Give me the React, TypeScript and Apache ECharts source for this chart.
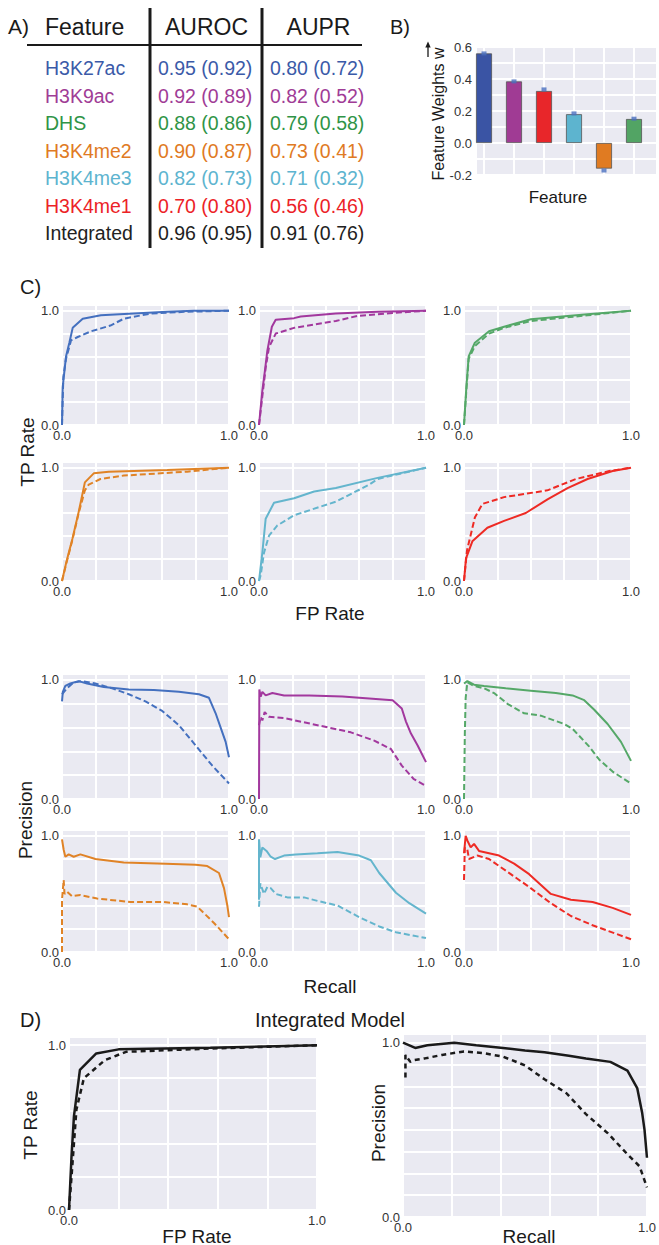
import React, { useEffect, useRef } from 'react';
import * as echarts from 'echarts';

// ---------- Table (A) ----------
const features = ['H3K27ac', 'H3K9ac', 'DHS', 'H3K4me2', 'H3K4me3', 'H3K4me1', 'Integrated'];
const aurocFull = ['0.95', '0.92', '0.88', '0.90', '0.82', '0.70', '0.96'];
const aurocBase = ['0.92', '0.89', '0.86', '0.87', '0.73', '0.80', '0.95'];
const auprFull = ['0.80', '0.82', '0.79', '0.73', '0.71', '0.56', '0.91'];
const auprBase = ['0.72', '0.52', '0.58', '0.41', '0.32', '0.46', '0.76'];
const tableColors = ['#3b5aa8', '#a03c96', '#2f9447', '#e07a24', '#5db4cf', '#ec2227', '#222222'];

// ---------- Bar chart (B) ----------
const barFeatures = ['H3K27ac', 'H3K9ac', 'H3K4me1', 'H3K4me3', 'H3K4me2', 'DHS'];
const weights = [0.56, 0.385, 0.325, 0.18, -0.16, 0.15];
const weightErr = [0.56, 0.385, 0.335, 0.185, -0.172, 0.152];
const barColors = ['#3a54a4', '#a03b94', '#e8262a', '#5db4cf', '#e07b22', '#52a464'];
const barTicks = [-0.2, 0.0, 0.2, 0.4, 0.6];

// ---------- ROC curves (C, top) [FP rate, TP rate] ----------
const rocH3K27ac = [[0,0],[0.004,0.33],[0.024,0.6],[0.044,0.72],[0.064,0.85],[0.124,0.93],[0.233,0.96],[0.43,0.975],[0.63,0.99],[0.79,1.0],[1,1.0]];
const rocH3K27acBase = [[0,0],[0.008,0.42],[0.024,0.58],[0.054,0.74],[0.094,0.77],[0.174,0.82],[0.29,0.87],[0.37,0.93],[0.53,0.975],[0.73,0.99],[1,1]];
const rocH3K9ac = [[0,0],[0.02,0.3],[0.035,0.47],[0.05,0.65],[0.077,0.86],[0.1,0.92],[0.21,0.935],[0.25,0.95],[0.46,0.975],[0.71,0.99],[1,1]];
const rocH3K9acBase = [[0,0],[0.02,0.25],[0.04,0.5],[0.06,0.68],[0.1,0.8],[0.21,0.85],[0.46,0.91],[0.59,0.955],[0.8,0.98],[1,1]];
const rocDHS = [[0,0],[0.014,0.33],[0.028,0.6],[0.065,0.72],[0.15,0.82],[0.24,0.86],[0.4,0.925],[0.74,0.97],[1,1]];
const rocDHSBase = [[0,0],[0.014,0.3],[0.028,0.58],[0.065,0.69],[0.15,0.8],[0.24,0.85],[0.4,0.91],[0.74,0.96],[1,1]];
const rocH3K4me2 = [[0,0],[0.025,0.16],[0.062,0.37],[0.1,0.61],[0.137,0.87],[0.19,0.95],[0.28,0.965],[0.63,0.98],[1,1]];
const rocH3K4me2Base = [[0,0],[0.025,0.15],[0.062,0.36],[0.1,0.6],[0.137,0.8],[0.16,0.85],[0.23,0.9],[0.37,0.93],[0.75,0.965],[1,1]];
const rocH3K4me3 = [[0,0],[0.02,0.25],[0.04,0.55],[0.09,0.69],[0.21,0.73],[0.33,0.79],[0.46,0.82],[0.71,0.91],[1,1]];
const rocH3K4me3Base = [[0,0],[0.01,0.05],[0.03,0.25],[0.06,0.4],[0.11,0.49],[0.21,0.58],[0.46,0.7],[0.66,0.85],[0.71,0.9],[1,1]];
const rocH3K4me1 = [[0,0],[0.012,0.2],[0.05,0.35],[0.14,0.47],[0.24,0.53],[0.37,0.6],[0.5,0.72],[0.62,0.82],[0.74,0.9],[0.89,0.97],[1,1]];
const rocH3K4me1Base = [[0,0],[0.018,0.27],[0.065,0.56],[0.11,0.68],[0.24,0.74],[0.5,0.8],[0.67,0.9],[0.87,0.97],[1,1]];

// ---------- PR curves (C, bottom) [recall, precision] ----------
const prH3K27ac = [[0,0.82],[0.005,0.9],[0.02,0.95],[0.05,0.97],[0.1,0.99],[0.15,0.97],[0.25,0.94],[0.4,0.92],[0.55,0.915],[0.7,0.9],[0.82,0.88],[0.88,0.85],[0.92,0.72],[0.95,0.6],[0.98,0.48],[1,0.35]];
const prH3K27acBase = [[0,0.88],[0.03,0.93],[0.07,0.98],[0.12,0.99],[0.2,0.97],[0.3,0.93],[0.4,0.88],[0.5,0.82],[0.6,0.74],[0.7,0.62],[0.8,0.45],[0.9,0.28],[1,0.13]];
const prH3K9ac = [[0,0],[0.002,0.92],[0.01,0.86],[0.02,0.9],[0.04,0.87],[0.08,0.89],[0.15,0.87],[0.3,0.87],[0.5,0.86],[0.7,0.84],[0.8,0.83],[0.855,0.76],[0.88,0.65],[0.91,0.55],[0.95,0.45],[1,0.31]];
const prH3K9acBase = [[0,0.62],[0.01,0.69],[0.02,0.66],[0.034,0.73],[0.06,0.69],[0.15,0.68],[0.35,0.62],[0.55,0.56],[0.69,0.49],[0.79,0.42],[0.855,0.28],[0.925,0.17],[1,0.11]];
const prDHS = [[0,0.97],[0.02,0.99],[0.06,0.96],[0.12,0.95],[0.25,0.93],[0.4,0.91],[0.55,0.89],[0.65,0.87],[0.72,0.83],[0.78,0.75],[0.86,0.63],[0.94,0.48],[1,0.32]];
const prDHSBase = [[0,0],[0.005,0.55],[0.01,0.85],[0.02,0.98],[0.06,0.95],[0.12,0.93],[0.18,0.89],[0.26,0.8],[0.36,0.72],[0.46,0.7],[0.6,0.63],[0.65,0.59],[0.75,0.44],[0.81,0.33],[0.89,0.23],[1,0.13]];
const prH3K4me2 = [[0,0.97],[0.01,0.88],[0.02,0.82],[0.04,0.84],[0.07,0.82],[0.11,0.84],[0.2,0.8],[0.37,0.77],[0.62,0.76],[0.8,0.75],[0.87,0.74],[0.94,0.68],[0.97,0.55],[0.99,0.4],[1,0.3]];
const prH3K4me2Base = [[0,0],[0,0.45],[0.01,0.62],[0.015,0.5],[0.03,0.52],[0.06,0.48],[0.11,0.49],[0.21,0.46],[0.41,0.43],[0.61,0.43],[0.75,0.41],[0.81,0.39],[0.91,0.25],[1,0.11]];
const prH3K4me3 = [[0,0.45],[0,0.97],[0.008,0.815],[0.02,0.9],[0.045,0.87],[0.07,0.82],[0.096,0.8],[0.15,0.83],[0.22,0.84],[0.35,0.85],[0.47,0.86],[0.6,0.83],[0.67,0.79],[0.72,0.68],[0.82,0.51],[0.9,0.42],[1,0.33]];
const prH3K4me3Base = [[0,0.39],[0.008,0.59],[0.03,0.5],[0.05,0.56],[0.07,0.55],[0.1,0.5],[0.17,0.47],[0.27,0.47],[0.35,0.44],[0.47,0.4],[0.6,0.3],[0.72,0.22],[0.82,0.17],[1,0.12]];
const prH3K4me1 = [[0,0.85],[0.01,1.0],[0.02,0.96],[0.04,0.9],[0.06,0.93],[0.09,0.87],[0.15,0.85],[0.21,0.83],[0.3,0.76],[0.39,0.67],[0.52,0.5],[0.64,0.45],[0.77,0.43],[0.89,0.38],[1,0.32]];
const prH3K4me1Base = [[0,0.62],[0.005,0.9],[0.02,0.88],[0.03,0.8],[0.08,0.83],[0.15,0.8],[0.28,0.67],[0.39,0.56],[0.52,0.42],[0.64,0.31],[0.77,0.23],[1,0.11]];

// ---------- Integrated model (D) ----------
const rocIntegrated = [[0,0],[0.01,0.32],[0.02,0.57],[0.044,0.85],[0.11,0.95],[0.2,0.975],[0.57,0.985],[1,1]];
const rocIntegratedBase = [[0,0],[0.01,0.2],[0.03,0.61],[0.06,0.8],[0.145,0.91],[0.23,0.96],[0.57,0.98],[1,1]];
const prIntegrated = [[0,1.0],[0.05,0.97],[0.1,0.985],[0.21,1.0],[0.3,0.985],[0.41,0.97],[0.5,0.955],[0.58,0.945],[0.68,0.925],[0.75,0.91],[0.85,0.89],[0.92,0.84],[0.96,0.74],[0.98,0.6],[0.99,0.5],[1,0.34]];
const prIntegratedBase = [[0.01,0.8],[0.01,0.93],[0.03,0.89],[0.045,0.9],[0.09,0.91],[0.16,0.93],[0.25,0.95],[0.33,0.94],[0.41,0.92],[0.5,0.87],[0.58,0.79],[0.67,0.71],[0.75,0.59],[0.84,0.48],[0.92,0.36],[0.97,0.29],[1,0.17]];

const lineColors = ['#4470bf', '#a2389e', '#55a868', '#e08326', '#64b5cd', '#ee2a24'];
const rocCurves = [
  [rocH3K27ac, rocH3K27acBase], [rocH3K9ac, rocH3K9acBase], [rocDHS, rocDHSBase],
  [rocH3K4me2, rocH3K4me2Base], [rocH3K4me3, rocH3K4me3Base], [rocH3K4me1, rocH3K4me1Base],
];
const prCurves = [
  [prH3K27ac, prH3K27acBase], [prH3K9ac, prH3K9acBase], [prDHS, prDHSBase],
  [prH3K4me2, prH3K4me2Base], [prH3K4me3, prH3K4me3Base], [prH3K4me1, prH3K4me1Base],
];

const FONT = "'Liberation Sans', Arial, Helvetica, sans-serif";

function buildOption() {
  const grids: any[] = [];
  const xAxes: any[] = [];
  const yAxes: any[] = [];
  const series: any[] = [];

  const split = { show: true, lineStyle: { color: '#ffffff', width: 2 } };
  const unitFmt = (v: number) => (Math.abs(v) < 1e-9 ? '0.0' : Math.abs(v - 1) < 1e-9 ? '1.0' : '');
  const lbl = { fontSize: 13, color: '#333', fontFamily: FONT, formatter: unitFmt };

  // bar chart grid
  grids.push({ left: 476, top: 47, width: 181, height: 128, show: true, backgroundColor: '#eaeaf2', borderWidth: 0 });
  xAxes.push({
    type: 'value', gridIndex: 0, min: -0.267, max: 5.767,
    axisLine: { show: false }, axisTick: { show: false }, axisLabel: { show: false }, splitLine: split,
  });
  yAxes.push({
    type: 'value', gridIndex: 0, min: -0.2, max: 0.6, interval: 0.1,
    axisLine: { show: false }, axisTick: { show: false }, splitLine: split,
    axisLabel: {
      fontSize: 13, color: '#333', fontFamily: FONT, margin: 4,
      formatter: (v: number) => (barTicks.some((t) => Math.abs(t - v) < 1e-6) ? v.toFixed(1) : ''),
    },
  });
  series.push({
    type: 'bar', xAxisIndex: 0, yAxisIndex: 0, barWidth: 16, z: 3, silent: true,
    data: weights.map((w, i) => ({ value: [i, w], name: barFeatures[i], itemStyle: { color: barColors[i], borderColor: '#555', borderWidth: 0.8 } })),
  });
  series.push({
    type: 'scatter', xAxisIndex: 0, yAxisIndex: 0, symbol: 'rect', symbolSize: [5, 4], z: 5, silent: true,
    itemStyle: { color: '#4a6fbf' },
    data: weightErr.map((v, i) => [i, v]),
  });

  function addPanel(left: number, top: number, width: number, height: number, yInterval: number, curves: number[][][], color: string, lw: number, dash: number[]) {
    const idx = grids.length;
    grids.push({ left, top, width, height, show: true, backgroundColor: '#eaeaf2', borderWidth: 0 });
    xAxes.push({
      type: 'value', gridIndex: idx, min: 0, max: 1, interval: 0.2,
      axisLine: { show: false }, axisTick: { show: false }, splitLine: split,
      axisLabel: { ...lbl, margin: 4 },
    });
    yAxes.push({
      type: 'value', gridIndex: idx, min: 0, max: 1.05, interval: yInterval,
      axisLine: { show: false }, axisTick: { show: false }, splitLine: split,
      axisLabel: { ...lbl, margin: 3 },
    });
    curves.forEach((c, k) => {
      series.push({
        type: 'line', xAxisIndex: idx, yAxisIndex: idx, data: c, showSymbol: false, symbol: 'none',
        silent: true, z: 3, clip: false,
        lineStyle: { color, width: lw, type: k === 0 ? 'solid' : dash },
      });
    });
  }

  const colLeft = [62, 259, 464];
  const colW = 167;
  const rocRows = [{ top: 305, h: 120 }, { top: 462, h: 119 }];
  const prRows = [{ top: 674, h: 125 }, { top: 830, h: 122 }];
  for (let p = 0; p < 6; p++) {
    const r = Math.floor(p / 3), c = p % 3;
    addPanel(colLeft[c], rocRows[r].top, colW, rocRows[r].h, 0.2, rocCurves[p], lineColors[p], 2, [6, 3]);
  }
  for (let p = 0; p < 6; p++) {
    const r = Math.floor(p / 3), c = p % 3;
    addPanel(colLeft[c], prRows[r].top, colW, prRows[r].h, 0.2, prCurves[p], lineColors[p], 2, [6, 3]);
  }
  addPanel(69, 1037, 248, 173, 0.2, [rocIntegrated, rocIntegratedBase], '#1a1a1a', 2.5, [5, 4]);
  addPanel(403, 1034, 246, 183, 0.125, [prIntegrated, prIntegratedBase], '#1a1a1a', 2.5, [5, 4]);

  // ---------- graphic: table + labels ----------
  const g: any[] = [];
  const text = (t: string, x: number, y: number, size: number, align = 'left', fill = '#1a1a1a', rot = 0, family = FONT) => {
    g.push({
      type: 'text', x, y, rotation: rot, silent: true,
      style: { text: t, fontSize: size, fontFamily: family, fill, textAlign: align, align, textVerticalAlign: 'middle', verticalAlign: 'middle' },
    });
  };
  const line = (x1: number, y1: number, x2: number, y2: number, w: number) => {
    g.push({ type: 'line', silent: true, shape: { x1, y1, x2, y2 }, style: { stroke: '#1a1a1a', lineWidth: w } });
  };

  text('A)', 8, 26, 21);
  text('Feature', 45, 27, 23);
  text('AUROC', 206.5, 27, 23, 'center');
  text('AUPR', 318.5, 27, 23, 'center');
  line(27, 45, 362, 45, 2);
  line(150, 8, 150, 248, 3);
  line(262, 8, 262, 248, 3);
  features.forEach((f, i) => {
    const y = 68 + 27.5 * i;
    text(f, 45, y, 19.5, 'left', tableColors[i]);
    text(`${aurocFull[i]} (${aurocBase[i]})`, 158, y, 19.5, 'left', tableColors[i]);
    text(`${auprFull[i]} (${auprBase[i]})`, 270, y, 19.5, 'left', tableColors[i]);
  });

  text('B)', 390, 27, 20);
  text('Feature Weights w', 438, 114, 16, 'center', '#1a1a1a', Math.PI / 2);
  // vector arrow over the w
  line(428, 57, 428, 46, 1.3);
  g.push({ type: 'polygon', silent: true, shape: { points: [[425.3, 47.5], [430.7, 47.5], [428, 41.5]] }, style: { fill: '#1a1a1a' } });
  text('Feature', 558, 197, 17, 'center');

  text('C)', 20, 287, 20);
  text('TP Rate', 27, 452, 19, 'center', '#1a1a1a', Math.PI / 2);
  text('FP Rate', 330, 613, 19, 'center');
  text('Precision', 25, 820, 19, 'center', '#1a1a1a', Math.PI / 2);
  text('Recall', 330, 986, 19, 'center');

  text('D)', 20, 1020, 20);
  text('Integrated Model', 330, 1020, 20, 'center', '#1a1a1a', 0, "'Liberation Sans Narrow', 'Liberation Sans', Arial, sans-serif");
  text('TP Rate', 30, 1125, 19, 'center', '#1a1a1a', Math.PI / 2);
  text('FP Rate', 197, 1236, 19, 'center');
  text('Precision', 378, 1123, 19, 'center', '#1a1a1a', Math.PI / 2);
  text('Recall', 529, 1236, 19, 'center');

  return {
    animation: false,
    backgroundColor: '#ffffff',
    grid: grids,
    xAxis: xAxes,
    yAxis: yAxes,
    series,
    graphic: { elements: g },
  };
}

export default function App() {
  const ref = useRef<HTMLDivElement>(null);
  useEffect(() => {
    if (!ref.current) return;
    const chart = echarts.init(ref.current, null, { renderer: 'svg' });
    chart.setOption(buildOption() as any);
    return () => chart.dispose();
  }, []);
  return (
    <div
      ref={ref}
      style={{ position: 'absolute', left: 0, top: 0, width: 659, height: 1245, background: '#fff' }}
    />
  );
}
